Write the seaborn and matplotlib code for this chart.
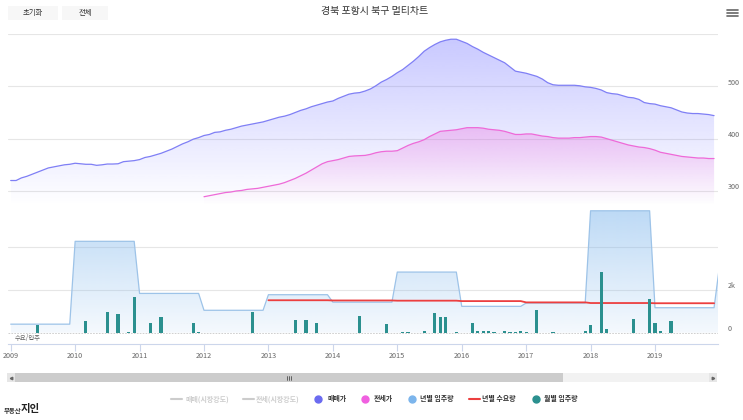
import numpy as np
import pandas as pd
import matplotlib
matplotlib.use('Agg')
import matplotlib.pyplot as plt
import seaborn as sns
from matplotlib.colors import to_rgb
from matplotlib.lines import Line2D
from matplotlib.patches import Rectangle
from matplotlib.transforms import blended_transform_factory

W, H = 743, 420

# 매매가 (monthly, 2009-01 .. 2019-12)
SALE_PRICE = [
    320, 320, 325, 328, 332, 336, 340, 344, 346, 348, 350, 351,
    353, 352, 351, 351, 349, 350, 351.5, 351.5, 352, 356, 357, 358,
    360, 364, 366, 369, 372, 376, 380, 385, 390, 394, 399, 402,
    406, 408, 412, 413, 416, 418, 421, 424, 426, 428, 430, 432,
    435, 438, 441, 443, 446, 450, 454, 457, 461, 464, 467, 470,
    472, 477, 481, 485, 487, 488, 491, 495, 501, 508, 513, 519,
    526, 532, 540, 548, 557, 567, 574, 580, 585, 588, 590, 590,
    586, 582, 576, 571, 565, 560, 555, 550, 545, 537, 529, 527,
    525, 522, 519, 514, 507, 503, 502, 502, 502, 502, 501, 499,
    498, 496, 493, 488, 486, 485, 482, 479, 478, 475, 469, 467,
    466, 463, 461, 459, 455, 451, 449, 448, 448, 447, 446, 444,
]
# 전세가 (monthly, 2012-01 .. 2019-12)
JEONSE_START = 2012
JEONSE_PRICE = [
    289, 291, 293, 295, 297, 298, 300, 301, 303, 304, 305, 307,
    309, 311, 313, 316, 320, 324, 329, 334, 340, 346, 352, 356,
    358, 360, 363, 366, 367, 367.5, 368, 370, 373, 375, 376, 376,
    377, 382, 387, 391, 394, 398, 404, 409, 414, 415, 416, 417,
    419, 421, 421, 421, 420, 418, 417, 416, 414, 411, 408, 408,
    409, 409, 407, 405, 404, 402, 401, 401, 401, 402, 402, 403,
    404, 404, 403, 400, 397, 394, 391, 388, 386, 384, 383, 381,
    378, 374, 372, 370, 368, 366, 365, 364, 363, 363, 362, 362,
]
# 년별 입주량
SUPPLY_YEARS = [2009, 2010, 2011, 2012, 2013, 2014, 2015, 2016, 2017, 2018, 2019, 2020]
ANNUAL_SUPPLY = [400, 4280, 1840, 1050, 1780, 1430, 2840, 1235, 1390, 5710, 1170, 3100]
# 년별 수요량
DEMAND_YEARS = [2013, 2014, 2015, 2016, 2017, 2018, 2019]
ANNUAL_DEMAND = [1520, 1510, 1500, 1480, 1420, 1390, 1380]
# 월별 입주량
MONTHS = [
    '2009-06', '2010-03', '2010-07', '2010-09', '2010-11', '2010-12', '2011-03',
    '2011-05', '2011-11', '2011-12', '2012-10', '2013-06', '2013-08', '2013-10',
    '2014-06', '2014-11', '2015-02', '2015-03', '2015-06', '2015-08', '2015-09',
    '2015-10', '2015-12', '2016-03', '2016-04', '2016-05', '2016-06', '2016-07',
    '2016-09', '2016-10', '2016-11', '2016-12', '2017-01', '2017-03', '2017-06',
    '2017-12', '2018-01', '2018-03', '2018-04', '2018-09', '2018-12', '2019-01',
    '2019-02', '2019-04',
]
MONTHLY_SUPPLY = [
    360, 548, 968, 860, 40, 1670, 468,
    750, 468, 40, 983, 580, 580, 468,
    796, 407, 30, 30, 80, 920, 720,
    720, 30, 440, 80, 60, 60, 40,
    70, 40, 40, 60, 40, 1048, 30,
    90, 360, 2827, 173, 640, 1590, 440,
    80, 530,
]
YEAR_TICKS = list(range(2009, 2020))

SALE_C = '#7f7ff5'
JEONSE_C = '#ee6ad8'
SUPPLY_C = '#7cb5ec'
DEMAND_C = '#ec3f3f'
BAR_C = '#2b908f'
GRID_C = '#e6e6e6'


def fx(px):
    return px / W


def fy(py):
    return 1 - py / H


def month_pos(year, k):
    return year + np.arange(k) / 12


def gradient_fill(ax, x, y, base, y0, g0, g1, a0, a1, zorder):
    coll = ax.fill_between(x, y, y0, facecolor='none', edgecolor='none')
    grad = np.zeros((256, 1, 4))
    grad[..., :3] = to_rgb(base)
    grad[..., 3] = np.linspace(a0, a1, 256)[:, None]
    im = ax.imshow(grad, aspect='auto', origin='lower', interpolation='bilinear',
                   extent=[min(x), max(x), g0, g1], zorder=zorder)
    im.set_clip_path(coll.get_paths()[0], transform=ax.transData)


sns.set_style('white')
plt.rcParams['font.family'] = ['Noto Sans CJK KR', 'DejaVu Sans']

fig = plt.figure(figsize=(W / 100, H / 100), dpi=100)
ax_top = fig.add_axes([fx(8), fy(205), fx(710), (205 - 34) / H])
ax_bot = fig.add_axes([fx(8), fy(344), fx(710), (344 - 205) / H])

x_left = 2009 - 2.7 / 64.43
x_right = 2009 + (718 - 10.7) / 64.43
top_lim = (273.2, 600)
bot_lim = (-529, 5981)

# ---- top panel: prices
sale = pd.DataFrame({'x': month_pos(2009, len(SALE_PRICE)), 'v': SALE_PRICE})
jeonse = pd.DataFrame({'x': month_pos(JEONSE_START, len(JEONSE_PRICE)), 'v': JEONSE_PRICE})

for v in [300, 400, 500, 600]:
    ax_top.axhline(v, color=GRID_C, lw=0.8, zorder=0)
gradient_fill(ax_top, sale['x'].values, sale['v'].values, '#7070ff',
              top_lim[0], top_lim[0], top_lim[1], 0.0, 0.39, 1)
gradient_fill(ax_top, jeonse['x'].values, jeonse['v'].values, '#f060dc',
              top_lim[0], top_lim[0], 430, 0.0, 0.33, 2)
sns.lineplot(data=sale, x='x', y='v', ax=ax_top, color=SALE_C, lw=0.9, zorder=3)
sns.lineplot(data=jeonse, x='x', y='v', ax=ax_top, color=JEONSE_C, lw=0.9, zorder=4)

ax_top.set_xlim(x_left, x_right)
ax_top.set_ylim(*top_lim)
ax_top.set_xticks([])
ax_top.set_yticks([])
ax_top.set_xlabel('')
ax_top.set_ylabel('')
for s in ax_top.spines.values():
    s.set_visible(False)
tr = blended_transform_factory(ax_top.transAxes, ax_top.transData)
for v in [300, 400, 500]:
    ax_top.text(1 + 10 / 710, v + 7, str(v), transform=tr, fontsize=5.2,
                color='#666666', va='center', ha='left')

# ---- bottom panel: supply / demand
sup_monthly = np.repeat(ANNUAL_SUPPLY[:-1], 12).tolist() + [ANNUAL_SUPPLY[-1]]
supply = pd.DataFrame({'x': month_pos(SUPPLY_YEARS[0], len(sup_monthly)), 'v': sup_monthly})
dem_monthly = np.repeat(ANNUAL_DEMAND, 12)
demand = pd.DataFrame({'x': month_pos(DEMAND_YEARS[0], len(dem_monthly)), 'v': dem_monthly})
bars_x = [int(m[:4]) + (int(m[5:]) - 1) / 12 for m in MONTHS]

for v in [2000, 4000]:
    ax_bot.axhline(v, color=GRID_C, lw=0.8, zorder=0)
ax_bot.axhline(0, color='#c8c8c8', lw=0.6, ls=(0, (2, 1.5)), zorder=0)
gradient_fill(ax_bot, supply['x'].values, supply['v'].values, SUPPLY_C,
              0, 0, bot_lim[1], 0.08, 0.52, 1)
sns.lineplot(data=supply, x='x', y='v', ax=ax_bot, color='#9dc3e8', lw=0.9, zorder=2)
sns.lineplot(data=demand, x='x', y='v', ax=ax_bot, color=DEMAND_C, lw=1.3, zorder=3)
ax_bot.bar(bars_x, MONTHLY_SUPPLY, width=0.05, color=BAR_C, linewidth=0, zorder=4)

ax_bot.set_xlim(x_left, x_right)
ax_bot.set_ylim(*bot_lim)
ax_bot.set_yticks([])
ax_bot.set_xlabel('')
ax_bot.set_ylabel('')
ax_bot.set_xticks(YEAR_TICKS)
ax_bot.set_xticklabels([str(y) for y in YEAR_TICKS])
ax_bot.tick_params(axis='x', length=5, width=0.8, color='#ccd6eb', labelsize=5.2,
                   labelcolor='#666666', pad=1, bottom=True)
for name, s in ax_bot.spines.items():
    s.set_visible(name == 'bottom')
ax_bot.spines['bottom'].set_color('#ccd6eb')
ax_bot.spines['bottom'].set_linewidth(0.8)
trb = blended_transform_factory(ax_bot.transAxes, ax_bot.transData)
ax_bot.text(1 + 10 / 710, 2000 + 180, '2k', transform=trb, fontsize=5.2,
            color='#666666', va='center', ha='left')
ax_bot.text(1 + 10 / 710, 0 + 180, '0', transform=trb, fontsize=5.2,
            color='#666666', va='center', ha='left')
fig.text(fx(15), fy(338), '수요/입주', fontsize=4.6, color='#666666',
         style='italic', va='center')

# ---- chrome: title, buttons, menu
fig.text(fx(375), fy(11), '경북 포항시 북구 멀티차트', ha='center', va='center',
         fontsize=7.2, color='#333333')
for x0, x1, label in [(8, 58, '초기화'), (62, 108, '전체')]:
    fig.add_artist(Rectangle((fx(x0), fy(20)), fx(x1 - x0), 14 / H,
                             transform=fig.transFigure, facecolor='#f7f7f7',
                             edgecolor='none'))
    fig.text(fx((x0 + x1) / 2), fy(13), label, ha='center', va='center',
             fontsize=5.3, color='#333333')
for yy in [9.5, 12.5, 15.5]:
    fig.add_artist(Line2D([fx(727), fx(738)], [fy(yy), fy(yy)],
                          transform=fig.transFigure, color='#666666', lw=1.2))


# ---- scrollbar
def frect(x0, y0, x1, y1, color):
    fig.add_artist(Rectangle((fx(x0), fy(y1)), fx(x1 - x0), (y1 - y0) / H,
                             transform=fig.transFigure, facecolor=color,
                             edgecolor='none'))


frect(7, 373, 717, 382, '#f2f2f2')
frect(15, 373, 563, 382, '#cccccc')
frect(7, 373, 15, 382, '#e6e6e6')
frect(709, 373, 717, 382, '#e6e6e6')
fig.add_artist(Line2D([fx(11)], [fy(377.5)], marker='<', ms=1.8, color='#666666',
                      transform=fig.transFigure))
fig.add_artist(Line2D([fx(713)], [fy(377.5)], marker='>', ms=1.8, color='#666666',
                      transform=fig.transFigure))
for gx in [287, 289, 291]:
    fig.add_artist(Line2D([fx(gx), fx(gx)], [fy(375.5), fy(379.5)], color='#333333',
                          lw=0.5, transform=fig.transFigure))

# ---- legend
LEG_Y = 399
legend_items = [
    ('line', 171, 185, '#cccccc', '매매(시장강도)', '#cccccc'),
    ('line', 243, 256, '#cccccc', '전세(시장강도)', '#cccccc'),
    ('dot', 318, 327, '#6b6bf0', '매매가', '#333333'),
    ('dot', 365, 374, '#f060e0', '전세가', '#333333'),
    ('dot', 412, 420, SUPPLY_C, '년별 입주량', '#333333'),
    ('line', 469, 482, DEMAND_C, '년별 수요량', '#333333'),
    ('dot', 536, 544, BAR_C, '월별 입주량', '#333333'),
]
for kind, mx, tx, col, label, tcol in legend_items:
    if kind == 'line':
        fig.add_artist(Line2D([fx(mx), fx(mx + 11)], [fy(LEG_Y), fy(LEG_Y)],
                              color=col, lw=1.5, transform=fig.transFigure))
    else:
        fig.add_artist(Line2D([fx(mx)], [fy(LEG_Y)], marker='o', ms=5, color=col,
                              transform=fig.transFigure))
    fig.text(fx(tx), fy(LEG_Y), label, va='center', ha='left', fontsize=5,
             color=tcol, weight='bold')

# ---- logo
fig.text(fx(4), fy(410), '부동산', fontsize=4.6, color='#333333', weight='bold',
         va='center')
fig.text(fx(21), fy(409), '지인', fontsize=7.5, color='#222222', weight='bold',
         va='center')

fig.savefig('out.png', dpi=100)
